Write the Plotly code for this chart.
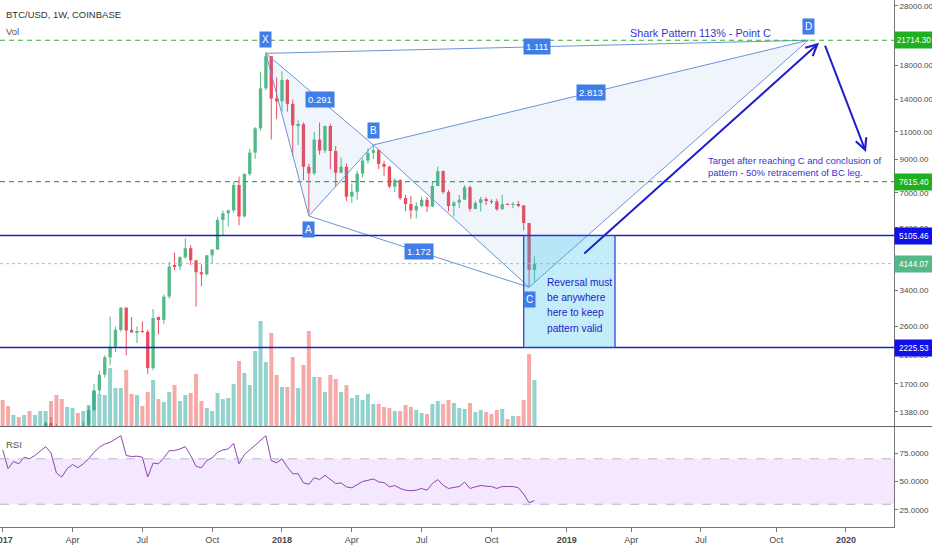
import numpy as np
import pandas as pd
import plotly.graph_objects as go

# weekly BTC/USD candles, Coinbase, 2017-01-02 .. 2018-11-26
dates = pd.date_range("2017-01-02", periods=100, freq="7D")
opens = [998, 910, 820, 922, 915, 1015, 995, 1050, 1170, 1270,
         1235, 970, 965, 1085, 1200, 1170, 1250, 1400, 1620, 1820,
         2070, 2240, 2535, 2990, 2525, 2490, 2510, 2500, 1910, 2770,
         2730, 3245, 4080, 4060, 4345, 4645, 4250, 3890, 3830, 4410,
         4600, 5730, 6020, 6150, 7420, 5880, 8050, 9440, 11300, 15200,
         19300, 14100, 13800, 16170, 13550, 11500, 11650, 8500, 8100, 10400,
         9580, 11500, 9550, 8130, 8500, 6810, 7060, 8080, 8900, 9420,
         9620, 8680, 8500, 7340, 7700, 6740, 6450, 6150, 6360, 6650,
         6330, 7370, 8230, 7040, 6350, 6520, 6660, 7300, 6220, 6500,
         6680, 6590, 6570, 6200, 6440, 6410, 6420, 6380, 5600, 3955]
highs = [1150, 910, 930, 925, 1040, 1080, 1060, 1200, 1290, 1330,
         1260, 1130, 1100, 1210, 1220, 1290, 1440, 1700, 1870, 2100,
         2800, 2600, 3000, 3000, 2790, 2600, 2700, 2540, 2960, 2800,
         3300, 4200, 4490, 4380, 5000, 4750, 4250, 4120, 4420, 4620,
         5850, 6150, 6190, 7600, 7900, 8100, 9700, 11400, 17200, 19891,
         19300, 16500, 17250, 16300, 14000, 12000, 11800, 8700, 11000, 11800,
         11550, 11700, 9900, 9100, 8700, 7500, 8250, 9050, 9750, 9990,
         9700, 8880, 8560, 7800, 7760, 6900, 6850, 6520, 6800, 6800,
         7600, 8500, 8280, 7160, 6600, 6900, 7420, 7400, 6600, 6800,
         6780, 6680, 6700, 6900, 6500, 6550, 6600, 6400, 5600, 4380]
lows = [880, 750, 810, 880, 915, 950, 985, 1040, 1160, 1000,
        950, 900, 950, 1080, 1160, 1160, 1240, 1390, 1580, 1780,
        1950, 2150, 2500, 2100, 2480, 2300, 2480, 1830, 1880, 2450,
        2650, 3200, 3950, 3950, 4300, 4100, 3010, 3500, 3800, 4150,
        4600, 5100, 5450, 6050, 5510, 5840, 7950, 9000, 11100, 15000,
        10400, 12100, 12800, 12800, 9200, 10000, 7700, 6000, 8000, 9300,
        9400, 8350, 7300, 8100, 6600, 6500, 6650, 7850, 8700, 9000,
        8350, 7950, 7250, 7050, 6650, 6120, 5780, 5800, 6300, 6070,
        6300, 7350, 6950, 6100, 5880, 6250, 6650, 6100, 6200, 6100,
        6400, 6450, 6130, 6200, 6400, 6250, 6300, 5300, 3480, 3630]
closes = [910, 820, 922, 915, 1015, 995, 1050, 1170, 1270, 1235,
          970, 965, 1085, 1200, 1170, 1250, 1400, 1620, 1820, 2070,
          2240, 2535, 2990, 2525, 2490, 2510, 2500, 1910, 2770, 2730,
          3245, 4055, 4060, 4345, 4645, 4250, 3890, 3830, 4410, 4600,
          5730, 6020, 6150, 7420, 5880, 8050, 9440, 11300, 15200, 19300,
          14100, 13800, 16170, 13550, 11550, 11650, 8500, 8100, 10400, 9580,
          11500, 9550, 8130, 8500, 6810, 7060, 8080, 8900, 9420, 9620,
          8680, 8500, 7340, 7700, 6740, 6450, 6150, 6360, 6650, 6330,
          7370, 8230, 7040, 6350, 6520, 6660, 7300, 6220, 6500, 6680,
          6590, 6570, 6200, 6440, 6410, 6420, 6380, 5600, 3955, 4144.07]
volume_k = [78, 60, 33, 27, 33, 45, 33, 45, 45, 75,
            93, 81, 57, 54, 39, 45, 63, 105, 96, 93,
            174, 114, 114, 168, 96, 93, 60, 102, 138, 81,
            72, 102, 123, 75, 93, 99, 156, 75, 54, 45,
            99, 81, 84, 126, 195, 159, 123, 225, 315, 192,
            279, 153, 117, 117, 207, 114, 183, 285, 147, 147,
            102, 153, 141, 102, 123, 84, 93, 78, 96, 66,
            66, 57, 54, 45, 45, 63, 57, 48, 39, 36,
            66, 75, 66, 78, 69, 54, 51, 69, 42, 48,
            42, 36, 48, 51, 21, 30, 30, 78, 216, 138]
rsi = [78, 61.3, 67.6, 65.6, 71.4, 70, 72.9, 77.2, 80.7, 75.2,
       57.5, 54, 61.3, 65, 62.1, 65.6, 70, 75.8, 80.1, 83,
       84.5, 87.4, 90.3, 72.9, 72, 72.3, 71.4, 54, 66.2, 65.6,
       70.8, 77.2, 77.2, 78.7, 80.7, 72.9, 63.3, 62.1, 68.5, 70.8,
       75.8, 77.8, 78.7, 83.6, 65.6, 73.7, 77.8, 81.6, 86.5, 90.3,
       68.5, 66.5, 70, 62.7, 56.9, 56.9, 48.8, 47.6, 53.4, 51.7,
       55.5, 51.7, 48.2, 48.8, 45.3, 44.5, 47.4, 50, 51.1, 52.3,
       49.7, 49.1, 45.3, 46.5, 43.9, 42.4, 41.9, 42.4, 43.9, 42.4,
       48.2, 51.7, 46.8, 43.9, 44.8, 45.6, 49.4, 43.9, 45.3, 46.5,
       45.9, 45.6, 43.9, 45.6, 45.6, 45.6, 44.5, 39, 31.4, 33.2]

# shark pattern drawn on the chart
pattern_names = ["X", "A", "B", "C", "D"]
pattern_dates = ["2017-12-11", "2018-02-05", "2018-04-30", "2018-11-19", "2019-11-18"]
pattern_prices = [19700, 5900, 9990, 3480, 21714.30]
ratio_legs = [("X", "B", "0.291"), ("A", "C", "1.172"), ("B", "D", "2.813"), ("X", "D", "1.111")]

# horizontal levels
green_levels = [21714.30, 7615.40]
blue_levels = [5105.46, 2225.53]
last_price = 4144.07
zone_dates = ["2018-11-12", "2019-03-11"]
zone_prices = [2225.53, 5105.46]
zone_lines = ["Reversal must", "be anywhere", "here to keep", "pattern valid"]

# drawn arrows: (head date, head price, tail date, tail price)
arrows = [("2019-12-02", 21300, "2019-01-28", 4420),
          ("2020-02-01", 9480, "2019-12-09", 21100)]

price_ticks = [28000, 22000, 18000, 14000, 11000, 9000, 7000, 5400, 4200, 3400, 2600, 2100, 1700, 1380]
rsi_ticks = [25, 50, 75]
x_tick_dates = ["2017-01-02", "2017-04-03", "2017-07-03", "2017-10-02", "2018-01-01", "2018-04-02",
                "2018-07-02", "2018-10-01", "2019-01-07", "2019-04-01", "2019-07-01", "2019-10-07",
                "2020-01-06"]
x_tick_text = ["<b>2017</b>", "Apr", "Jul", "Oct", "<b>2018</b>", "Apr", "Jul", "Oct",
               "<b>2019</b>", "Apr", "Jul", "Oct", "<b>2020</b>"]

UP, DOWN = "#53b987", "#eb4d5c"
VUP, VDOWN = "rgba(38,166,154,0.5)", "rgba(239,83,80,0.5)"
PAT = "#6b93d6"
LBL = "#3f7ee8"
TXT = "#3535cf"
FONT = "Liberation Sans, Arial, sans-serif"
WEEK_MS = 7 * 24 * 3600 * 1000
W, H = 894, 527  # plot area in px


def px(x, y):
    return dict(x=x / W, y=1 - y / H, xref="paper", yref="paper")


df = pd.DataFrame({"date": dates, "open": opens, "high": highs, "low": lows,
                   "close": closes, "vol": volume_k, "rsi": rsi})
df["up"] = df["close"] >= df["open"]

fig = go.Figure()

# volume
fig.add_trace(go.Bar(x=df["date"], y=df["vol"], yaxis="y3", width=0.74 * WEEK_MS,
                     marker=dict(color=[VUP if u else VDOWN for u in df["up"]], line_width=0)))

# wicks
for flag, col in ((True, UP), (False, DOWN)):
    sub = df[df["up"] == flag]
    wx, wy = [], []
    for _, r in sub.iterrows():
        wx += [r["date"], r["date"], None]
        wy += [r["low"], r["high"], None]
    fig.add_trace(go.Scatter(x=wx, y=wy, mode="lines", line=dict(color=col, width=1)))

# bodies
fig.add_trace(go.Bar(x=df["date"], y=df["close"] - df["open"], base=df["open"],
                     width=0.62 * WEEK_MS,
                     marker=dict(color=[UP if u else DOWN for u in df["up"]], line_width=0)))

# pattern
pts = {n: (pd.Timestamp(d), p) for n, d, p in zip(pattern_names, pattern_dates, pattern_prices)}
for tri in (("X", "A", "B"), ("B", "C", "D")):
    fig.add_trace(go.Scatter(x=[pts[n][0] for n in tri + (tri[0],)],
                             y=[pts[n][1] for n in tri + (tri[0],)],
                             mode="none", fill="toself", fillcolor="rgba(90,140,220,0.09)"))
for a, b in [("X", "A"), ("A", "B"), ("B", "C"), ("C", "D")] + [(l[0], l[1]) for l in ratio_legs]:
    fig.add_trace(go.Scatter(x=[pts[a][0], pts[b][0]], y=[pts[a][1], pts[b][1]], mode="lines",
                             line=dict(color=PAT, width=1)))

# rsi
fig.add_trace(go.Scatter(x=df["date"], y=df["rsi"], yaxis="y2", mode="lines",
                         line=dict(color="#8e44ad", width=1)))

shapes = []
for lv in green_levels:
    shapes.append(dict(type="line", xref="paper", x0=0, x1=1, yref="y", y0=lv, y1=lv,
                       line=dict(color="#2db52d", width=1.2, dash="5px,4px")))
for lv in blue_levels:
    shapes.append(dict(type="line", xref="paper", x0=0, x1=1, yref="y", y0=lv, y1=lv,
                       line=dict(color="#1c1cd0", width=1.5)))
shapes.append(dict(type="line", xref="paper", x0=0, x1=1, yref="y", y0=last_price, y1=last_price,
                   line=dict(color="#8fd0b0", width=1, dash="dot")))
shapes.append(dict(type="rect", xref="x", x0=zone_dates[0], x1=zone_dates[1], yref="y",
                   y0=zone_prices[0], y1=zone_prices[1], fillcolor="rgba(40,190,235,0.28)",
                   line=dict(color="#3030e0", width=1.2)))
shapes.append(dict(type="rect", xref="paper", x0=0, x1=1, yref="y2", y0=30, y1=70,
                   fillcolor="#f3e8fd", line_width=0, layer="below"))
for lv in (30, 70):
    shapes.append(dict(type="line", xref="paper", x0=0, x1=1, yref="y2", y0=lv, y1=lv,
                       line=dict(color="#bdb3cc", width=1, dash="dash")))
# pane separator
shapes.append(dict(type="line", xref="paper", x0=0, x1=1.05, yref="paper", y0=0.1907, y1=0.1907,
                   line=dict(color="#666666", width=1)))

ann = []
# point labels
shift = {"X": 14, "A": -13, "B": 14, "C": -12, "D": 14}
for n in pattern_names:
    d, p = pts[n]
    ann.append(dict(x=d, y=np.log10(p), xref="x", yref="y", text=n, showarrow=False, yshift=shift[n],
                    bgcolor=LBL, borderpad=2, font=dict(family=FONT, size=10, color="white")))
for a, b, t in ratio_legs:
    md = pts[a][0] + (pts[b][0] - pts[a][0]) / 2
    mp = (np.log10(pts[a][1]) + np.log10(pts[b][1])) / 2
    ann.append(dict(x=md, y=mp, xref="x", yref="y", text=t, showarrow=False,
                    bgcolor=LBL, borderpad=2, font=dict(family=FONT, size=9.5, color="white")))
for hd, hp, td, tp in arrows:
    ann.append(dict(x=hd, y=np.log10(hp), ax=td, ay=np.log10(tp), xref="x", yref="y",
                    axref="x", ayref="y", text="", showarrow=True, arrowhead=5, arrowsize=1.1,
                    arrowwidth=2, arrowcolor="#1f1fcc", standoff=0, startstandoff=0))
# axis price labels
for lv, col in [(green_levels[0], "#1fb01f"), (green_levels[1], "#1fb01f"),
                (blue_levels[0], "#1010e8"), (blue_levels[1], "#1010e8"), (last_price, "#55b888")]:
    ann.append(dict(x=1, y=np.log10(lv), xref="paper", yref="y", xanchor="left", yanchor="middle",
                    text=f"{lv:.2f}", showarrow=False, bgcolor=col, borderpad=1.5, width=35,
                    height=13, align="center", font=dict(family=FONT, size=8.2, color="white")))
# texts
ann.append(dict(**px(700, 33), xanchor="center", yanchor="middle", showarrow=False,
                text="Shark Pattern 113% - Point C", font=dict(family=FONT, size=10.8, color=TXT)))
ann.append(dict(**px(706, 166.5), xanchor="left", yanchor="middle", align="left", showarrow=False,
                text="Target after reaching C and conclusion of<br>pattern - 50% retracement of BC leg.",
                font=dict(family=FONT, size=9.5, color=TXT)))
for k, line in enumerate(zone_lines):
    ann.append(dict(**px(545, 282 + 15.4 * k), xanchor="left", yanchor="middle", showarrow=False,
                    text=line, font=dict(family=FONT, size=10.2, color="#2222cc")))
ann.append(dict(**px(4, 15), xanchor="left", yanchor="middle", showarrow=False,
                text="BTC/USD, 1W, COINBASE", font=dict(family=FONT, size=9.5, color="#333333")))
ann.append(dict(**px(4, 32), xanchor="left", yanchor="middle", showarrow=False,
                text="Vol", font=dict(family=FONT, size=9.5, color="#555555")))
ann.append(dict(**px(4, 444), xanchor="left", yanchor="middle", showarrow=False,
                text="RSI", font=dict(family=FONT, size=9.5, color="#555555")))

tick_font = dict(family=FONT, size=8, color="#4a4a4a")
fig.update_traces(hoverinfo="skip")
fig.update_layout(
    width=932, height=550, margin=dict(l=0, r=38, t=0, b=23, autoexpand=False),
    paper_bgcolor="white", plot_bgcolor="white", showlegend=False, barmode="overlay",
    hovermode=False, shapes=shapes, annotations=ann,
    xaxis=dict(type="date", range=["2016-12-29 12:00", "2020-03-08 14:00"], anchor="y2",
               tickvals=x_tick_dates, ticktext=x_tick_text, ticks="outside", ticklen=4,
               tickcolor="#777777", showline=True, linecolor="#777777", showgrid=False,
               zeroline=False, tickfont=dict(family=FONT, size=9, color="#4a4a4a"),
               ticklabeloverflow="allow", automargin=False),
    yaxis=dict(type="log", domain=[0.1917, 1], range=[3.0948, 4.4663], side="right",
               tickvals=price_ticks, ticktext=[f"{v}.00" for v in price_ticks], ticks="outside",
               ticklen=3, tickcolor="#777777", showline=True, linecolor="#777777",
               showgrid=False, zeroline=False, tickfont=tick_font, automargin=False),
    yaxis2=dict(domain=[0, 0.1898], range=[10, 98], side="right", tickvals=rsi_ticks,
                ticktext=[f"{v}.0000" for v in rsi_ticks], ticks="outside", ticklen=3,
                tickcolor="#777777", showline=True, linecolor="#777777", showgrid=False,
                zeroline=False, tickfont=tick_font, automargin=False),
    yaxis3=dict(overlaying="y", range=[0, 1278], visible=False),
)

fig.write_html("out.html", config={"displayModeBar": False},
               post_script="document.body.style.margin='0px';")
